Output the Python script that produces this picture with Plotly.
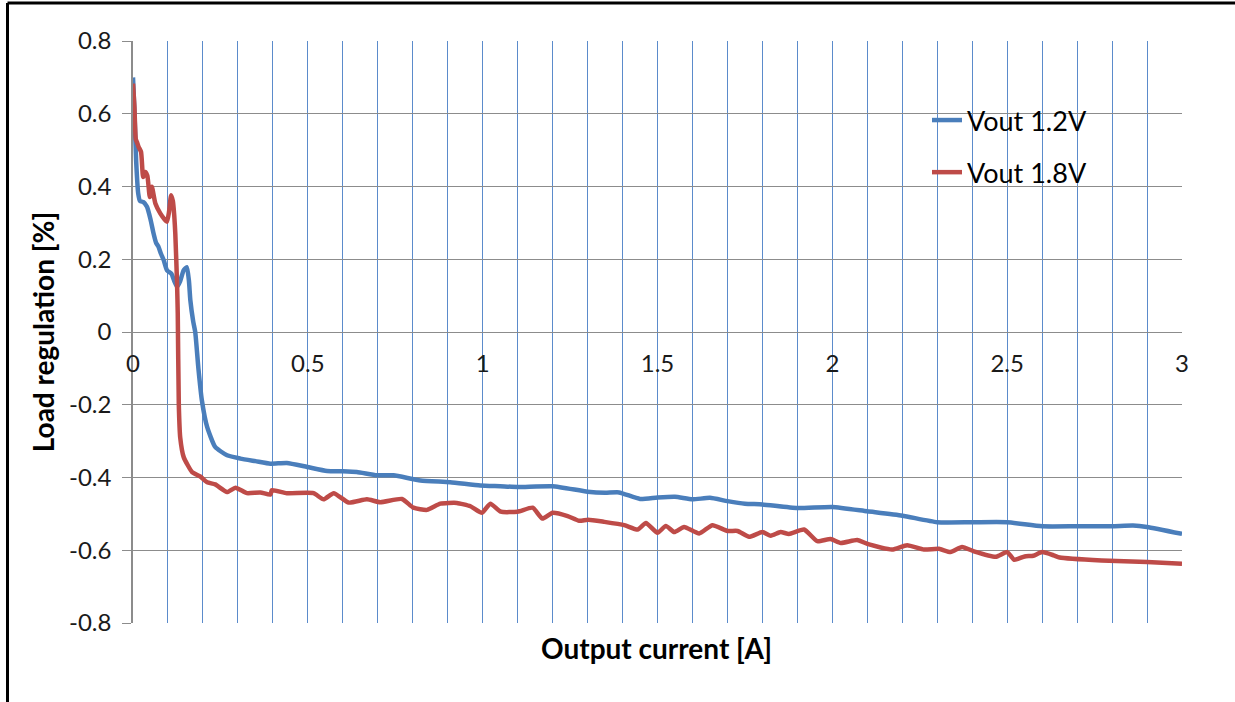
import plotly.graph_objects as go

# ---------------- data ----------------
blue_x = [0, 0.004, 0.009, 0.015, 0.02, 0.03, 0.04, 0.05, 0.059, 0.066, 0.073, 0.08, 0.088,
          0.097, 0.11, 0.118, 0.126, 0.135, 0.145, 0.154, 0.16, 0.164, 0.172, 0.178, 0.187,
          0.197, 0.212, 0.235, 0.269, 0.307, 0.35, 0.393, 0.44, 0.498, 0.555, 0.6, 0.64,
          0.698, 0.745, 0.822, 0.907, 0.993, 1.05, 1.1, 1.2, 1.3, 1.35, 1.39, 1.45, 1.5,
          1.55, 1.6, 1.65, 1.7, 1.75, 1.8, 1.9, 2.0, 2.1, 2.2, 2.3, 2.4, 2.5, 2.6, 2.7,
          2.8, 2.86, 2.9, 3.0]
blue_y = [0.70, 0.61, 0.47, 0.38, 0.36, 0.357, 0.344, 0.31, 0.27, 0.245, 0.234, 0.215, 0.197,
          0.17, 0.16, 0.14, 0.124, 0.14, 0.17, 0.178, 0.14, 0.087, 0.03, 0.0, -0.1,
          -0.188, -0.261, -0.316, -0.339, -0.348, -0.355, -0.362, -0.36, -0.371, -0.382, -0.383, -0.385,
          -0.394, -0.394, -0.408, -0.413, -0.422, -0.424, -0.426, -0.424, -0.439, -0.442, -0.441, -0.459, -0.455,
          -0.453, -0.46, -0.456, -0.465, -0.472, -0.474, -0.484, -0.481, -0.493, -0.505, -0.523, -0.523, -0.523, -0.534, -0.534,
          -0.534, -0.532, -0.536, -0.555]

red_x = [0, 0.004, 0.008, 0.012, 0.016, 0.023, 0.029, 0.035, 0.041, 0.048, 0.054, 0.064, 0.078,
         0.09, 0.097, 0.103, 0.109, 0.114, 0.118, 0.121, 0.126, 0.128, 0.131, 0.135, 0.145,
         0.169, 0.192, 0.212, 0.235, 0.269, 0.293, 0.326, 0.364, 0.393, 0.397, 0.44, 0.516,
         0.545, 0.574, 0.617, 0.669, 0.707, 0.769, 0.802, 0.841, 0.879, 0.926, 0.965, 0.998,
         1.022, 1.052, 1.1, 1.143, 1.171, 1.2, 1.243, 1.276, 1.302, 1.348, 1.405, 1.443,
         1.467, 1.5, 1.524, 1.548, 1.576, 1.619, 1.657, 1.7, 1.729, 1.762, 1.8, 1.824,
         1.852, 1.876, 1.919, 1.957, 1.995, 2.024, 2.071, 2.105, 2.171, 2.214, 2.262, 2.305,
         2.338, 2.371, 2.405, 2.467, 2.5, 2.52, 2.55, 2.575, 2.6, 2.633, 2.65, 2.77, 2.9, 3.0]
red_y = [0.683, 0.62, 0.53, 0.52, 0.509, 0.495, 0.426, 0.44, 0.43, 0.371, 0.399, 0.353, 0.326,
         0.31, 0.303, 0.33, 0.376, 0.36, 0.32, 0.27, 0.133, 0.05, -0.2, -0.29, -0.344,
         -0.385, -0.397, -0.413, -0.419, -0.44, -0.428, -0.443, -0.441, -0.447, -0.435, -0.443, -0.443,
         -0.46, -0.443, -0.469, -0.46, -0.468, -0.459, -0.483, -0.489, -0.472, -0.47, -0.479, -0.497,
         -0.472, -0.494, -0.494, -0.483, -0.513, -0.497, -0.506, -0.519, -0.516, -0.522, -0.531, -0.543,
         -0.525, -0.552, -0.533, -0.55, -0.536, -0.554, -0.531, -0.547, -0.547, -0.563, -0.55, -0.56,
         -0.55, -0.555, -0.543, -0.575, -0.569, -0.58, -0.572, -0.584, -0.598, -0.586, -0.598, -0.596,
         -0.605, -0.591, -0.603, -0.618, -0.605, -0.626, -0.617, -0.615, -0.605, -0.614, -0.62, -0.628, -0.632, -0.637]

series_names = ["Vout 1.2V", "Vout 1.8V"]

x_tick_vals = [0, 0.5, 1, 1.5, 2, 2.5, 3]
x_tick_text = ["0", "0.5", "1", "1.5", "2", "2.5", "3"]
y_tick_vals = [-0.8, -0.6, -0.4, -0.2, 0, 0.2, 0.4, 0.6, 0.8]
y_tick_text = ["-0.8", "-0.6", "-0.4", "-0.2", "0", "0.2", "0.4", "0.6", "0.8"]

x_title = "Output current [A]"
y_title = "Load regulation [%]"

# ---------------- style ----------------
BLUE = "#4A7EBB"
RED = "#BE4B48"
GRID_GRAY = "#8C8C8C"
GRID_BLUE = "#5B8BCB"
FONT = "Lato, 'Open Sans', sans-serif"

fig = go.Figure()
fig.add_trace(go.Scatter(x=blue_x, y=blue_y, name=series_names[0], mode="lines",
                         line=dict(color=BLUE, width=4.5, shape="spline", smoothing=0.5),
                         legendgroup="a"))
fig.add_trace(go.Scatter(x=red_x, y=red_y, name=series_names[1], mode="lines",
                         line=dict(color=RED, width=4.5, shape="spline", smoothing=0.5),
                         legendgroup="b"))

W, H = 1235, 702
ml, mr, mt, mb = 133, 53, 41, 79
pw, ph = W - ml - mr, H - mt - mb


def px2paper_x(px):
    return (px - ml) / pw


def px2paper_y(py):
    return (H - mb - py) / ph


fig.update_layout(
    width=W, height=H,
    margin=dict(l=ml, r=mr, t=mt, b=mb, autoexpand=False),
    paper_bgcolor="white", plot_bgcolor="white",
    font=dict(family=FONT, size=24, color="#000000"),
    showlegend=True,
    legend=dict(x=px2paper_x(927), y=px2paper_y(96), xanchor="left", yanchor="top",
                bgcolor="rgba(0,0,0,0)", font=dict(size=27, color="#000000"),
                tracegroupgap=14, itemwidth=30),
    xaxis=dict(range=[0, 3], anchor="free", position=0.5,
               tickmode="array", tickvals=x_tick_vals, ticktext=x_tick_text,
               ticks="", ticklabelstandoff=15,
               showgrid=True, gridcolor=GRID_BLUE, gridwidth=1,
               minor=dict(tickmode="linear", tick0=0, dtick=0.1, showgrid=True,
                          gridcolor=GRID_BLUE, gridwidth=1),
               showline=False, zeroline=False,
               tickfont=dict(size=24, color="#1a1a1a")),
    yaxis=dict(range=[-0.8, 0.8],
               tickmode="array", tickvals=y_tick_vals, ticktext=y_tick_text,
               ticks="outside", ticklen=9, tickcolor=GRID_GRAY, tickwidth=1,
               ticklabelstandoff=6,
               showgrid=True, gridcolor=GRID_GRAY, gridwidth=1,
               showline=True, linecolor=GRID_GRAY, linewidth=1.5,
               zeroline=False,
               tickfont=dict(size=24, color="#1a1a1a"),
               title=dict(text="<b>" + y_title + "</b>", font=dict(size=28, color="#000000"),
                          standoff=6)),
)

fig.add_annotation(text="<b>" + x_title + "</b>", xref="paper", yref="paper",
                   x=px2paper_x(656), y=px2paper_y(648), xanchor="center", yanchor="middle",
                   showarrow=False, font=dict(size=28, color="#000000"))

# outer frame (top and left edges visible)
fl, ft = px2paper_x(7.5), px2paper_y(3)
fig.add_shape(type="line", xref="paper", yref="paper", x0=fl, x1=fl, y0=px2paper_y(702), y1=ft,
              line=dict(color="#000000", width=3))
fig.add_shape(type="line", xref="paper", yref="paper", x0=fl, x1=px2paper_x(1235), y0=ft, y1=ft,
              line=dict(color="#000000", width=3))

fig.write_html("out.html",
               config={"displayModeBar": False},
               post_script="document.body.style.margin='0';document.body.style.overflow='hidden';")
